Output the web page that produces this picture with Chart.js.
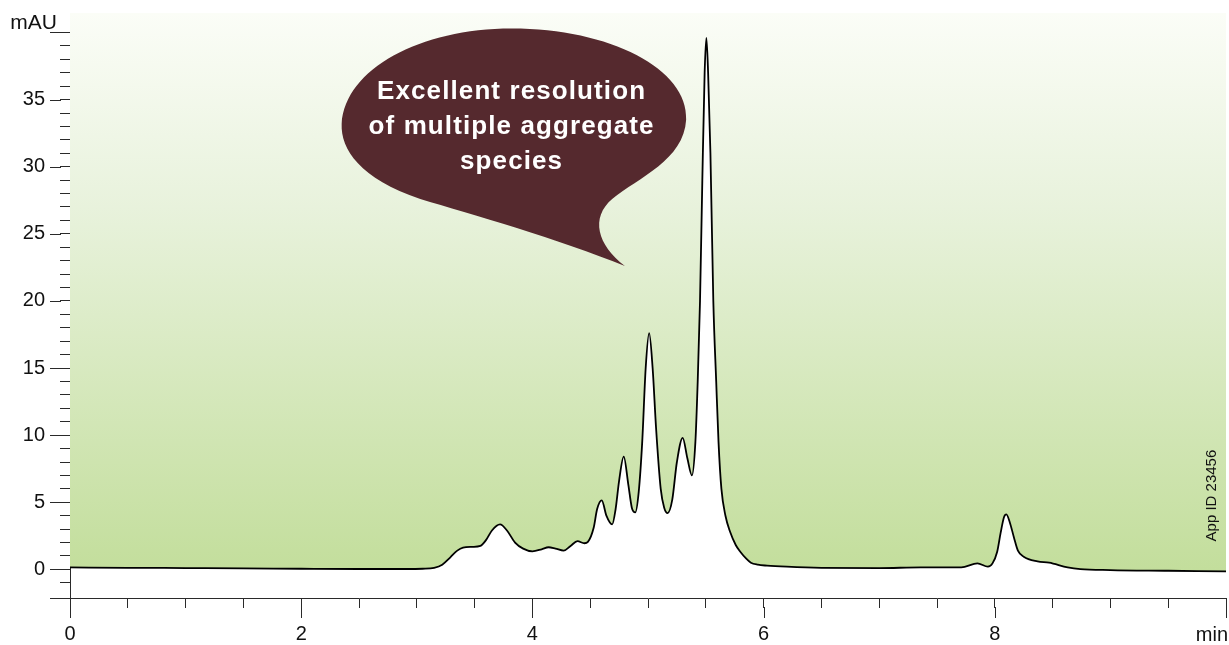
<!DOCTYPE html>
<html>
<head>
<meta charset="utf-8">
<script src="https://cdn.jsdelivr.net/npm/chart.js@4.4.1/dist/chart.umd.min.js"></script>
<style>
  html, body { margin: 0; padding: 0; background: #ffffff; }
  #wrap { width: 1229px; height: 645px; }
</style>
</head>
<body>
<div id="wrap"><canvas id="c" width="1229" height="645"></canvas></div>
<script>
// ---- data ----
const timeMin = [
  0.00, 0.50, 1.00, 1.50, 2.00, 2.50, 2.90, 3.05, 3.15, 3.22, 3.29, 3.35, 3.40, 3.48, 3.55,
  3.60, 3.65, 3.72, 3.78, 3.85, 3.92, 4.00, 4.08, 4.14, 4.20, 4.27, 4.33, 4.39, 4.45, 4.48,
  4.53, 4.56, 4.60, 4.64, 4.69, 4.72, 4.75, 4.79, 4.83, 4.86, 4.89, 4.92, 4.95, 4.98, 5.01,
  5.04, 5.07, 5.11, 5.14, 5.17, 5.21, 5.25, 5.30, 5.34, 5.38, 5.41, 5.43, 5.45, 5.47, 5.49,
  5.505, 5.52, 5.54, 5.565, 5.59, 5.61, 5.635, 5.67, 5.71, 5.76, 5.80, 5.85, 5.89, 5.95, 6.03,
  6.20, 6.50, 7.00, 7.36, 7.71, 7.85, 7.94, 7.98, 8.02, 8.05, 8.08, 8.10, 8.13, 8.165, 8.20,
  8.25, 8.37, 8.47, 8.63, 8.74, 9.00, 9.50, 10.00
];
const absorbance_mAU = [
  0.15, 0.12, 0.10, 0.08, 0.05, 0.03, 0.03, 0.05, 0.12, 0.35, 0.90, 1.40, 1.62, 1.68, 1.75,
  2.20, 2.90, 3.35, 2.90, 2.00, 1.55, 1.35, 1.50, 1.65, 1.55, 1.40, 1.75, 2.10, 1.95, 2.05,
  3.10, 4.50, 5.15, 4.00, 3.35, 4.50, 6.60, 8.40, 6.30, 4.60, 4.25, 5.80, 9.50, 15.0, 17.6,
  15.0, 10.5, 6.0, 4.6, 4.2, 5.2, 8.0, 9.8, 8.3, 7.0, 9.5, 14.0, 20.0, 29.0, 37.0,
  39.6, 37.0, 31.0, 20.0, 14.0, 9.5, 6.0, 4.0, 2.8, 1.8, 1.3, 0.8, 0.5, 0.35, 0.28,
  0.20, 0.12, 0.10, 0.15, 0.15, 0.45, 0.20, 0.45, 1.30, 2.70, 3.90, 4.10, 3.50, 2.40, 1.40,
  0.95, 0.60, 0.50, 0.15, 0.02, -0.05, -0.10, -0.15
];
const xTickValues = [0,0.5,1,1.5,2,2.5,3,3.5,4,4.5,5,5.5,6,6.5,7,7.5,8,8.5,9,9.5,10];
const xMajorTicks = [0, 2, 4, 6, 8, 10];
const xTickLabels = {0: '0', 2: '2', 4: '4', 6: '6', 8: '8'};
const xUnitLabel = 'min';
const yTickValues = [-1,0,1,2,3,4,5,6,7,8,9,10,11,12,13,14,15,16,17,18,19,20,21,22,23,24,25,26,27,28,29,30,31,32,33,34,35,36,37,38,39,40];
const yMajorTicks = [0, 5, 10, 15, 20, 25, 30, 35, 40];
const yTickLabels = {0:'0',5:'5',10:'10',15:'15',20:'20',25:'25',30:'30',35:'35'};
const yUnitLabel = 'mAU';
const calloutLines = ['Excellent resolution', 'of multiple aggregate', 'species'];
const appIdText = 'App ID 23456';

const points = timeMin.map((t, i) => ({ x: t, y: absorbance_mAU[i] }));

const FONT = "'Liberation Sans', Arial, Helvetica, sans-serif";
const AXIS_COLOR = '#2a2a2a';

function greenGradient(context) {
  const chart = context.chart;
  const area = chart.chartArea;
  if (!area) return 'rgba(200,225,165,1)';
  const ys = chart.scales.y;
  const g = chart.ctx.createLinearGradient(0, area.top, 0, ys.getPixelForValue(0));
  g.addColorStop(0, '#fbfdf7');
  g.addColorStop(0.35, '#e8f2dc');
  g.addColorStop(1, '#c3de9c');
  return g;
}

const decorPlugin = {
  id: 'decor',
  afterDatasetsDraw(chart) {
    const ctx = chart.ctx;
    const xs = chart.scales.x, ys = chart.scales.y;
    // speech bubble callout
    ctx.save();
    const px = (v) => xs.getPixelForValue(v);
    const py = (v) => ys.getPixelForValue(v);
    ctx.beginPath();
    ctx.moveTo(px(4.80), py(22.6));
    ctx.bezierCurveTo(px(4.24), py(24.6), px(3.46), py(26.5), px(3.03), py(27.6));
    ctx.bezierCurveTo(px(2.51), py(29.1), px(2.34), py(31.3), px(2.35), py(33.2));
    ctx.bezierCurveTo(px(2.38), py(37.3), px(3.03), py(40.3), px(3.82), py(40.3));
    ctx.bezierCurveTo(px(4.67), py(40.3), px(5.35), py(37.3), px(5.33), py(33.5));
    ctx.bezierCurveTo(px(5.31), py(30.5), px(4.92), py(29.2), px(4.69), py(27.6));
    ctx.bezierCurveTo(px(4.50), py(26.2), px(4.56), py(24.2), px(4.80), py(22.6));
    ctx.closePath();
    ctx.fillStyle = '#55292e';
    ctx.fill();
    ctx.fillStyle = '#ffffff';
    ctx.font = 'bold 26px ' + FONT;
    ctx.textAlign = 'center';
    ctx.textBaseline = 'alphabetic';
    try { ctx.letterSpacing = '1.1px'; } catch (e) {}
    const cx = px(3.82);
    calloutLines.forEach((s, i) => {
      ctx.fillText(s, cx, py(35.05) + i * 35);
    });
    try { ctx.letterSpacing = '0px'; } catch (e) {}
    ctx.restore();
  },
  afterDraw(chart) {
    const ctx = chart.ctx;
    const xs = chart.scales.x, ys = chart.scales.y;
    const area = chart.chartArea;
    ctx.save();
    ctx.strokeStyle = AXIS_COLOR;
    ctx.lineWidth = 1;
    // longer major ticks on y axis
    yMajorTicks.forEach(v => {
      const y = Math.round(ys.getPixelForValue(v)) + 0.5;
      ctx.beginPath();
      ctx.moveTo(area.left - 20, y);
      ctx.lineTo(area.left - 9, y);
      ctx.stroke();
    });
    // longer major ticks on x axis
    xMajorTicks.forEach(v => {
      const x = Math.round(xs.getPixelForValue(v)) + 0.5;
      ctx.beginPath();
      ctx.moveTo(x, area.bottom + 9);
      ctx.lineTo(x, area.bottom + 20);
      ctx.stroke();
    });
    // x axis line extends left of the y axis
    const yb = Math.round(area.bottom) + 0.5;
    ctx.beginPath();
    ctx.moveTo(area.left - 20, yb);
    ctx.lineTo(area.left, yb);
    ctx.stroke();
    // unit labels
    ctx.fillStyle = '#111111';
    ctx.font = '21px ' + FONT;
    ctx.textBaseline = 'middle';
    ctx.textAlign = 'right';
    ctx.fillText(yUnitLabel, area.left - 13, ys.getPixelForValue(40) - 9);
    ctx.font = '20px ' + FONT;
    ctx.fillText(xUnitLabel, xs.getPixelForValue(10) + 2, area.bottom + 37);
    // App ID
    ctx.save();
    ctx.translate(xs.getPixelForValue(9.88), ys.getPixelForValue(5.5));
    ctx.rotate(-Math.PI / 2);
    ctx.font = '15px ' + FONT;
    ctx.textAlign = 'center';
    ctx.textBaseline = 'middle';
    ctx.fillStyle = '#111111';
    ctx.fillText(appIdText, 0, 0);
    ctx.restore();
    ctx.restore();
  }
};

Chart.defaults.font.family = FONT;
Chart.defaults.font.size = 20;
Chart.defaults.color = '#111111';

new Chart(document.getElementById('c'), {
  type: 'line',
  data: {
    datasets: [{
      label: 'UV signal',
      data: points,
      borderColor: '#000000',
      borderWidth: 1.8,
      pointRadius: 0,
      cubicInterpolationMode: 'monotone',
      fill: 'end',
      backgroundColor: greenGradient
    }]
  },
  options: {
    responsive: false,
    devicePixelRatio: 1,
    animation: false,
    layout: { padding: { top: 13, right: 3, left: 0, bottom: 0 } },
    plugins: {
      legend: { display: false },
      tooltip: { enabled: false },
      title: { display: false }
    },
    scales: {
      x: {
        type: 'linear',
        min: 0,
        max: 10,
        afterBuildTicks: (scale) => { scale.ticks = xTickValues.map(v => ({ value: v })); },
        afterFit: (scale) => {
          scale.height = 47;
          scale.paddingLeft = 0; scale.paddingRight = 0;
          scale.paddingTop = 0; scale.paddingBottom = 0;
        },
        ticks: {
          autoSkip: false,
          maxRotation: 0,
          padding: 14,
          color: '#111111',
          font: { size: 20 },
          callback: (v) => (xTickLabels[v] !== undefined ? xTickLabels[v] : '')
        },
        grid: {
          drawOnChartArea: false,
          drawTicks: true,
          tickLength: 10,
          color: AXIS_COLOR,
          tickColor: AXIS_COLOR
        },
        border: { display: true, color: AXIS_COLOR, width: 1 }
      },
      y: {
        type: 'linear',
        min: -2.13,
        max: 41.45,
        afterBuildTicks: (scale) => { scale.ticks = yTickValues.map(v => ({ value: v })); },
        afterFit: (scale) => {
          scale.width = 70;
          scale.paddingLeft = 0; scale.paddingRight = 0;
          scale.paddingTop = 0; scale.paddingBottom = 0;
        },
        ticks: {
          autoSkip: false,
          padding: 15,
          color: '#111111',
          font: { size: 20 },
          callback: (v) => (yTickLabels[v] !== undefined ? yTickLabels[v] : '')
        },
        grid: {
          drawOnChartArea: false,
          drawTicks: true,
          tickLength: 10,
          color: AXIS_COLOR,
          tickColor: AXIS_COLOR
        },
        border: { display: true, color: AXIS_COLOR, width: 1 }
      }
    }
  },
  plugins: [decorPlugin]
});
</script>
</body>
</html>
